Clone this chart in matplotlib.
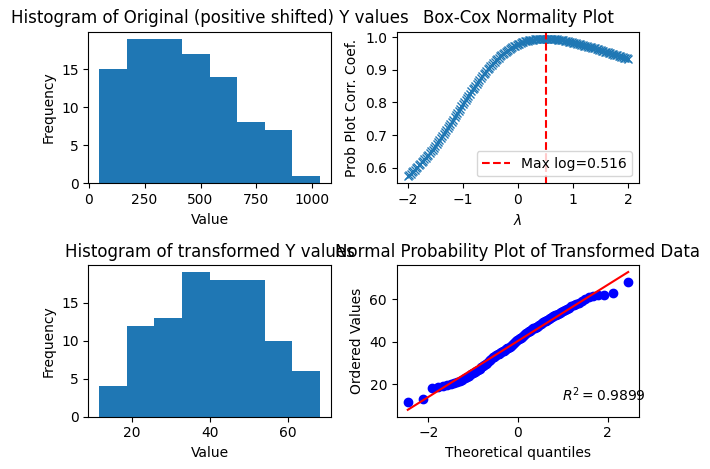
import matplotlib
matplotlib.use("Agg")
import matplotlib.pyplot as plt
import numpy as np
from statistics import NormalDist

# original (positive shifted) Y values: histogram bins
orig_edges = [47.8, 171.0, 294.1, 417.3, 540.4, 663.6, 786.7, 909.9, 1033.0]
orig_counts = [15, 19, 19, 17, 14, 8, 7, 1]

# box-cox normality plot, lambda from -2 to 2 in steps of 0.025
ppcc = [0.573, 0.577, 0.581, 0.585, 0.589, 0.5935, 0.598, 0.6025, 0.607, 0.6115,
        0.616, 0.6205, 0.625, 0.630, 0.635, 0.640, 0.645, 0.650, 0.655, 0.6605, 0.666,
        0.672, 0.678, 0.684, 0.690, 0.696, 0.702, 0.7085, 0.715, 0.7215, 0.728,
        0.7345, 0.741, 0.7475, 0.754, 0.761, 0.768, 0.7745, 0.781, 0.788, 0.795,
        0.8015, 0.808, 0.8145, 0.821, 0.8275, 0.834, 0.840, 0.846, 0.852, 0.858,
        0.864, 0.870, 0.8755, 0.881, 0.8865, 0.892, 0.897, 0.902, 0.907, 0.912,
        0.9165, 0.921, 0.9255, 0.930, 0.934, 0.938, 0.942, 0.946, 0.9495, 0.953,
        0.956, 0.959, 0.962, 0.965, 0.9675, 0.970, 0.9725, 0.975, 0.977, 0.979,
        0.981, 0.983, 0.9845, 0.986, 0.9875, 0.989, 0.990, 0.991, 0.992, 0.993,
        0.9935, 0.994, 0.9945, 0.995, 0.9955, 0.996, 0.996, 0.996, 0.9962, 0.9963,
        0.9962, 0.996, 0.9958, 0.9955, 0.9952, 0.995, 0.9945, 0.994, 0.9935, 0.993,
        0.992, 0.991, 0.9905, 0.990, 0.989, 0.988, 0.987, 0.986, 0.985, 0.984,
        0.983, 0.982, 0.981, 0.980, 0.9785, 0.977, 0.976, 0.975, 0.974, 0.973,
        0.9715, 0.970, 0.969, 0.968, 0.967, 0.966, 0.9645, 0.963, 0.962, 0.961,
        0.9595, 0.958, 0.9565, 0.955, 0.954, 0.953, 0.9515, 0.950, 0.9485, 0.947,
        0.946, 0.945, 0.9435, 0.942, 0.9405, 0.939, 0.938, 0.937, 0.9355, 0.934]
lmbdas = np.linspace(-2, 2, len(ppcc))
max_lmbda = 0.516

# transformed values (sorted)
trans = [11.7, 13.2, 18.2, 18.6,
         19.0, 19.5, 20.0, 20.6, 21.1, 21.6, 22.2, 22.7, 23.3, 24.0, 24.7, 25.4,
         25.9, 26.3, 26.8, 27.3, 27.9, 28.5, 29.0, 29.6, 30.2, 30.8, 31.4, 32.0, 32.6,
         33.0, 33.3, 33.7, 34.0, 34.4, 34.7, 35.1, 35.4, 35.8, 36.1, 36.5, 36.8,
         37.2, 37.6, 38.0, 38.4, 38.8, 39.2, 39.6,
         40.1, 40.6, 41.1, 41.5, 41.9, 42.3, 42.8, 43.2, 43.6, 44.0, 44.4, 44.8,
         45.2, 45.5, 45.9, 46.2, 46.5, 46.8,
         47.1, 47.5, 47.9, 48.3, 48.7, 49.1, 49.5, 49.9, 50.3, 50.7, 51.1, 51.5,
         51.9, 52.3, 52.7, 53.1, 53.5, 53.9,
         54.3, 54.9, 55.4, 56.0, 56.5, 57.0, 57.6, 58.3, 59.3, 60.2,
         61.1, 61.4, 61.7, 62.1, 62.7, 68.1]
r2 = 0.9899

# Filliben order statistic medians -> theoretical quantiles
n = len(trans)
m = (np.arange(1, n + 1) - 0.3175) / (n + 0.365)
m[0] = 1 - 0.5 ** (1.0 / n)
m[-1] = 0.5 ** (1.0 / n)
osm = np.array([NormalDist().inv_cdf(p) for p in m])
osr = np.array(trans)
slope, intercept = np.polyfit(osm, osr, 1)

fig, axs = plt.subplots(2, 2, figsize=(7.1, 4.69))
fig.subplots_adjust(left=0.1244, right=0.9003, top=0.9324, bottom=0.1115,
                    wspace=0.272, hspace=0.54)

ax = axs[0, 0]
ax.hist(orig_edges[:-1], bins=orig_edges, weights=orig_counts)
ax.set_title('Histogram of Original (positive shifted) Y values')
ax.set_xlabel('Value')
ax.set_ylabel('Frequency')

ax = axs[0, 1]
ax.plot(lmbdas, ppcc, 'x')
ax.axvline(max_lmbda, color='r', linestyle='--', label='Max log=%.3f' % max_lmbda)
ax.set_title('Box-Cox Normality Plot')
ax.set_xlabel('$\\lambda$')
ax.set_ylabel('Prob Plot Corr. Coef.')
ax.legend(loc='lower right')

ax = axs[1, 0]
ax.hist(trans, bins=8)
ax.set_title('Histogram of transformed Y values')
ax.set_xlabel('Value')
ax.set_ylabel('Frequency')

ax = axs[1, 1]
ax.plot(osm, osr, 'bo')
ax.plot(osm, slope * osm + intercept, 'r-')
ax.set_title('Normal Probability Plot of Transformed Data')
ax.set_xlabel('Theoretical quantiles')
ax.set_ylabel('Ordered Values')
posx = osm.min() + 0.70 * (osm.max() - osm.min())
posy = osr.min() + 0.01 * (osr.max() - osr.min())
ax.text(posx, posy, '$R^2=%1.4f$' % r2)

fig.savefig('out.png', dpi=100)
